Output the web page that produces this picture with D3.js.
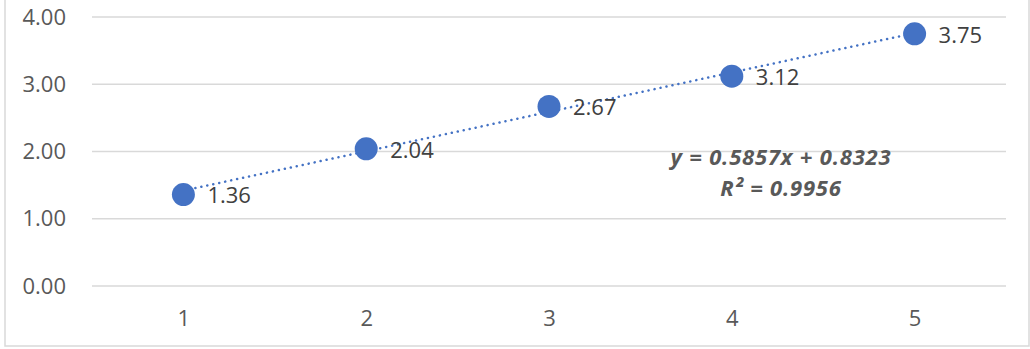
<!DOCTYPE html>
<html>
<head>
<meta charset="utf-8">
<script src="https://cdn.jsdelivr.net/npm/d3@7"></script>
<style>
  html, body { margin: 0; padding: 0; background: #ffffff; }
  svg { display: block; }
</style>
</head>
<body>
<svg id="chart" width="1030" height="349"></svg>
<script>
// Series data
const categories = [1, 2, 3, 4, 5];
const values = [1.36, 2.04, 2.67, 3.12, 3.75];
const yTicks = [0, 1, 2, 3, 4];
// Linear trendline coefficients
const slope = 0.5857;
const intercept = 0.8323;
const rSquared = 0.9956;

const W = 1030, H = 349;
const plot = { left: 92, right: 1006, top: 17, bottom: 286 };
const font = "'Open Sans', sans-serif";
const textColor = "#595959";
const seriesColor = "#4472C4";

const svg = d3.select("#chart");

// Outer chart frame
svg.append("rect")
  .attr("x", 5).attr("y", -2)
  .attr("width", W - 6).attr("height", H - 1)
  .attr("fill", "none").attr("stroke", "#d9d9d9").attr("stroke-width", 1.5);

const x = d3.scalePoint().domain(categories)
  .range([plot.left, plot.right]).padding(0.5);
const y = d3.scaleLinear().domain([0, 4]).range([plot.bottom, plot.top]);

// Horizontal gridlines
svg.append("g").selectAll("line").data(yTicks).join("line")
  .attr("x1", plot.left).attr("x2", plot.right)
  .attr("y1", d => y(d)).attr("y2", d => y(d))
  .attr("stroke", "#d9d9d9").attr("stroke-width", 1.5);

// Y axis labels
const yAxis = d3.axisLeft(y).tickValues(yTicks).tickFormat(d3.format(".2f")).tickSize(0).tickPadding(0);
const gy = svg.append("g").attr("transform", `translate(66,0)`).call(yAxis);
gy.select(".domain").remove();
gy.selectAll("text").attr("font-family", font).attr("font-size", 22).attr("fill", textColor);

// X axis labels
const xAxis = d3.axisBottom(x).tickSize(0).tickPadding(0);
const gx = svg.append("g").attr("transform", `translate(0,${plot.bottom + 24})`).call(xAxis);
gx.select(".domain").remove();
gx.selectAll("text").attr("font-family", font).attr("font-size", 22).attr("fill", textColor);

// Dotted linear trendline
const xFirst = categories[0], xLast = categories[categories.length - 1];
svg.append("line")
  .attr("x1", x(xFirst)).attr("y1", y(slope * xFirst + intercept))
  .attr("x2", x(xLast)).attr("y2", y(slope * xLast + intercept))
  .attr("stroke", seriesColor).attr("stroke-width", 2.5)
  .attr("stroke-linecap", "round").attr("stroke-dasharray", "0.1 6");

// Markers
svg.append("g").selectAll("circle").data(categories).join("circle")
  .attr("cx", d => x(d)).attr("cy", (d, i) => y(values[i]))
  .attr("r", 11.5).attr("fill", seriesColor);

// Data labels
svg.append("g").selectAll("text").data(categories).join("text")
  .attr("x", d => x(d) + 24).attr("y", (d, i) => y(values[i]) + 3)
  .attr("dominant-baseline", "middle")
  .attr("font-family", font).attr("font-size", 22).attr("fill", "#404040")
  .text((d, i) => values[i].toFixed(2));

// Trendline equation
const eqX = 781;
const eq = svg.append("text")
  .attr("x", eqX).attr("text-anchor", "middle")
  .attr("font-family", font).attr("font-size", 22).attr("letter-spacing", 0.8)
  .attr("font-weight", "bold").attr("font-style", "italic").attr("fill", textColor);
eq.append("tspan").attr("x", eqX).attr("y", 165)
  .text(`y = ${slope}x + ${intercept}`);
eq.append("tspan").attr("x", eqX).attr("y", 196)
  .text(`R² = ${rSquared}`);
</script>
</body>
</html>
